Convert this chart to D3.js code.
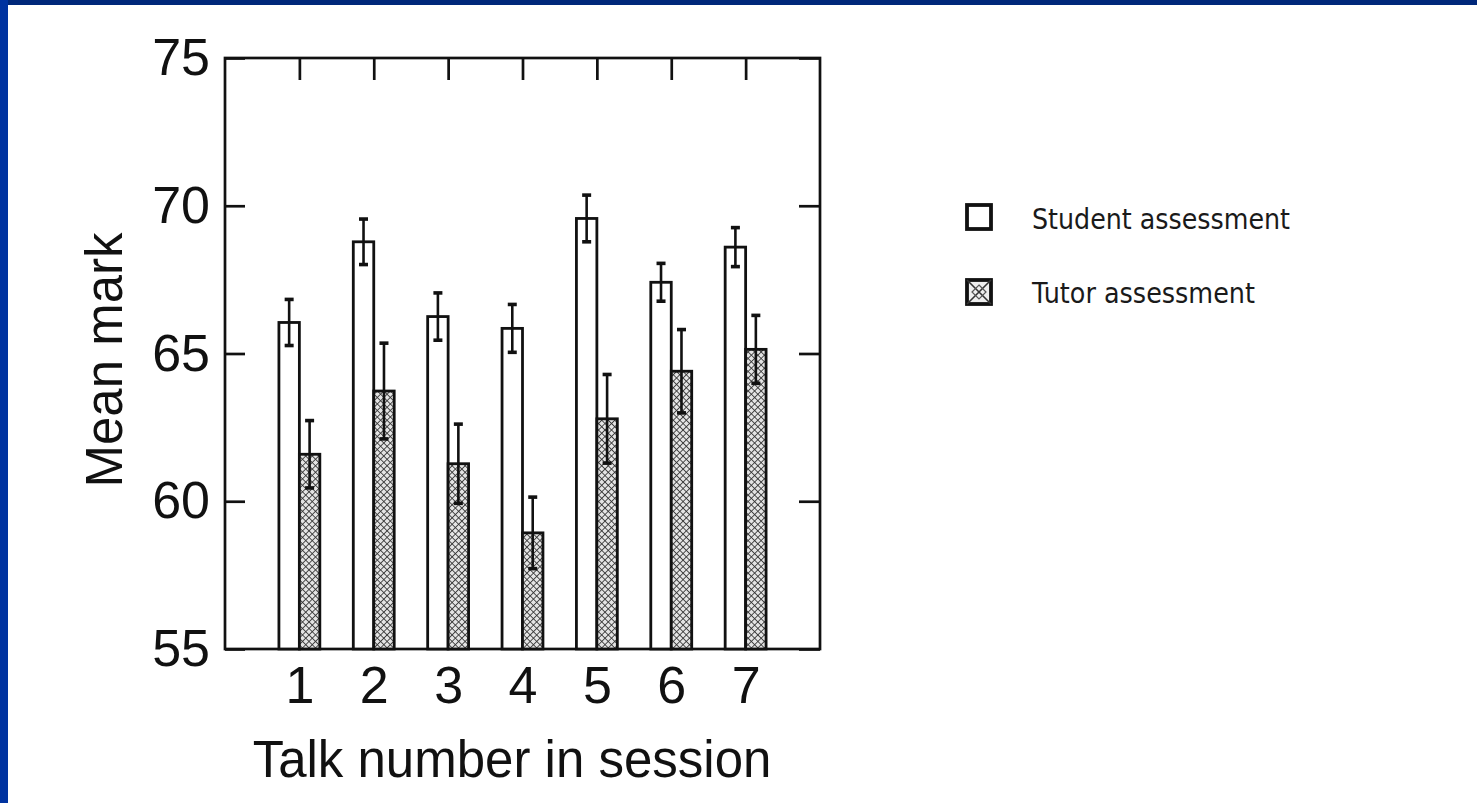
<!DOCTYPE html>
<html>
<head>
<meta charset="utf-8">
<script src="https://cdn.jsdelivr.net/npm/d3@7"></script>
<style>
  html, body { margin: 0; padding: 0; background: #ffffff; }
  svg { display: block; }
</style>
</head>
<body>
<svg id="chart" width="1477" height="803"></svg>
<script>
// Mean marks per talk position in a session, with standard-error bars
const talks = [1, 2, 3, 4, 5, 6, 7];
const studentMean = [66.05, 68.78, 66.25, 65.85, 69.57, 67.41, 68.6];
const studentErr  = [0.78, 0.77, 0.8, 0.81, 0.79, 0.64, 0.66];
const tutorMean   = [61.59, 63.73, 61.27, 58.93, 62.79, 64.4, 65.14];
const tutorErr    = [1.14, 1.62, 1.34, 1.21, 1.5, 1.41, 1.15];
const yTicks = [55, 60, 65, 70, 75];
const seriesNames = ["Student assessment", "Tutor assessment"];
const xTitle = "Talk number in session";
const yTitle = "Mean mark";

const svg = d3.select("#chart");
const ink = "#111";

// slide frame: dark blue strip along the top and left edges
svg.append("rect").attr("x", 0).attr("y", 0).attr("width", 1477).attr("height", 5).attr("fill", "#00287a");
svg.append("rect").attr("x", 0).attr("y", 0).attr("width", 8).attr("height", 803).attr("fill", "#0033a0");

// cross-hatch fill used for the tutor bars
const defs = svg.append("defs");
const hatch = defs.append("pattern")
  .attr("id", "hatch").attr("patternUnits", "userSpaceOnUse")
  .attr("width", 4.6).attr("height", 4.6)
  .attr("patternTransform", "rotate(45)");
hatch.append("rect").attr("width", 4.6).attr("height", 4.6).attr("fill", "#e4e4e4");
hatch.append("line").attr("x1", 0).attr("y1", 0).attr("x2", 4.6).attr("y2", 0).attr("stroke", "#333").attr("stroke-width", 1.7);
hatch.append("line").attr("x1", 0).attr("y1", 0).attr("x2", 0).attr("y2", 4.6).attr("stroke", "#333").attr("stroke-width", 1.7);

const plot = { left: 225, right: 820, top: 58, bottom: 649 };

const x = d3.scaleLinear().domain([0, 8]).range([plot.left, plot.right]);
const y = d3.scaleLinear().domain([55, 75]).range([plot.bottom, plot.top]);
const barW = x(0.275) - x(0);

const axisFont = "'Liberation Sans', Arial, sans-serif";

// frame of the plot
svg.append("rect")
  .attr("x", plot.left).attr("y", plot.top)
  .attr("width", plot.right - plot.left).attr("height", plot.bottom - plot.top)
  .attr("fill", "none").attr("stroke", ink).attr("stroke-width", 2.7);

function styleAxis(g) {
  g.select(".domain").remove();
  g.selectAll(".tick line").attr("stroke", ink).attr("stroke-width", 2.7);
  g.selectAll(".tick text").attr("fill", ink).attr("font-family", axisFont).attr("font-size", 52);
}

svg.append("g").attr("transform", `translate(${plot.left},0)`)
  .call(d3.axisLeft(y).tickValues(yTicks).tickFormat(d3.format("d"))
    .tickSizeInner(-20).tickSizeOuter(0).tickPadding(15))
  .call(styleAxis);

svg.append("g").attr("transform", `translate(${plot.right},0)`)
  .call(d3.axisRight(y).tickValues(yTicks).tickFormat("")
    .tickSizeInner(-21).tickSizeOuter(0))
  .call(styleAxis);

svg.append("g").attr("transform", `translate(0,${plot.top})`)
  .call(d3.axisTop(x).tickValues(talks).tickFormat("")
    .tickSizeInner(-22).tickSizeOuter(0))
  .call(styleAxis);

svg.append("g").attr("transform", `translate(0,${plot.bottom})`)
  .call(d3.axisBottom(x).tickValues(talks).tickFormat(d3.format("d"))
    .tickSize(0).tickPadding(17))
  .call(styleAxis);

// axis titles
svg.append("text")
  .attr("x", 512).attr("y", 777)
  .attr("text-anchor", "middle")
  .attr("font-family", axisFont).attr("font-size", 51).attr("fill", ink)
  .text(xTitle);

svg.append("text")
  .attr("transform", "translate(122,360) rotate(-90)")
  .attr("text-anchor", "middle")
  .attr("font-family", axisFont).attr("font-size", 51).attr("fill", ink)
  .text(yTitle);

// bars
const rows = talks.map((t, i) => ({ t, s: studentMean[i], se: studentErr[i], u: tutorMean[i], ue: tutorErr[i] }));
const bars = svg.append("g");

bars.selectAll(".student").data(rows).join("rect")
  .attr("class", "student")
  .attr("x", d => x(d.t) - barW).attr("y", d => y(d.s))
  .attr("width", barW).attr("height", d => y(55) - y(d.s))
  .attr("fill", "#fff").attr("stroke", ink).attr("stroke-width", 2.8);

bars.selectAll(".tutor").data(rows).join("rect")
  .attr("class", "tutor")
  .attr("x", d => x(d.t)).attr("y", d => y(d.u))
  .attr("width", barW).attr("height", d => y(55) - y(d.u))
  .attr("fill", "url(#hatch)").attr("stroke", ink).attr("stroke-width", 2.8);

// error bars
function errorBars(cls, cx, mean, err) {
  const g = svg.append("g").attr("class", cls);
  const cap = 4.5;
  rows.forEach(d => {
    const c = cx(d), m = mean(d), e = err(d);
    g.append("line").attr("x1", c).attr("x2", c).attr("y1", y(m + e)).attr("y2", y(m - e))
      .attr("stroke", ink).attr("stroke-width", 2.6);
    [m + e, m - e].forEach(v => {
      g.append("line").attr("x1", c - cap).attr("x2", c + cap).attr("y1", y(v)).attr("y2", y(v))
        .attr("stroke", ink).attr("stroke-width", 3.6);
    });
  });
}
errorBars("student-err", d => x(d.t) - barW / 2, d => d.s, d => d.se);
errorBars("tutor-err", d => x(d.t) + barW / 2, d => d.u, d => d.ue);

// legend
const legendFont = "'DejaVu Sans', Verdana, sans-serif";
const leg = svg.append("g");
leg.append("rect").attr("x", 967).attr("y", 205).attr("width", 24).attr("height", 24)
  .attr("fill", "#fff").attr("stroke", ink).attr("stroke-width", 3.8);
leg.append("rect").attr("x", 967).attr("y", 280).attr("width", 24).attr("height", 24)
  .attr("fill", "#eee").attr("stroke", ink).attr("stroke-width", 3.8);
leg.append("path").attr("d", "M967,280 L991,304 M991,280 L967,304")
  .attr("stroke", "#333").attr("stroke-width", 1.6);
leg.append("path").attr("d", "M979,285 L986,292 L979,299 L972,292 Z")
  .attr("fill", "none").attr("stroke", "#555").attr("stroke-width", 1.2);

leg.append("text").attr("x", 1032).attr("y", 229)
  .attr("font-family", legendFont).attr("font-size", 28).attr("fill", "#1a1a1a")
  .attr("textLength", 258).attr("lengthAdjust", "spacingAndGlyphs")
  .text(seriesNames[0]);
leg.append("text").attr("x", 1032).attr("y", 303)
  .attr("font-family", legendFont).attr("font-size", 28).attr("fill", "#1a1a1a")
  .attr("textLength", 223).attr("lengthAdjust", "spacingAndGlyphs")
  .text(seriesNames[1]);
</script>
</body>
</html>
